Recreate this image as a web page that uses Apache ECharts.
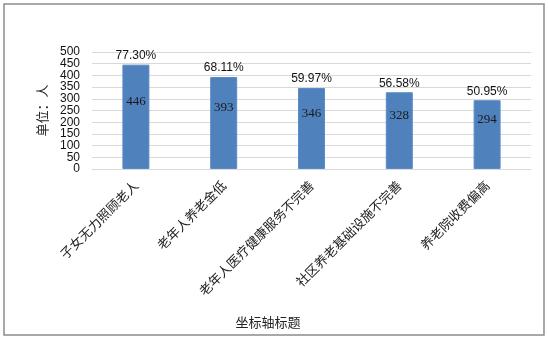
<!DOCTYPE html>
<html>
<head>
<meta charset="utf-8">
<script src="https://cdn.jsdelivr.net/npm/echarts@6/dist/echarts.min.js"></script>
<style>
  html, body { margin: 0; padding: 0; background: #fff; }
  #chart { width: 548px; height: 339px; }
</style>
</head>
<body>
<div id="chart"></div>
<script>
var categories = ['子女无力照顾老人', '老年人养老金低', '老年人医疗健康服务不完善', '社区养老基础设施不完善', '养老院收费偏高']
var counts = [446, 393, 346, 328, 294]
var percents = ['77.30%', '68.11%', '59.97%', '56.58%', '50.95%']

var chart = echarts.init(document.getElementById('chart'))

var sansFont = '"Liberation Sans", Arial, sans-serif'
var cjkFont = '"Noto Sans CJK SC", sans-serif'

var yLabelStyle = {
  color: '#111',
  fontSize: 12,
  fontFamily: sansFont,
  margin: 12
}

chart.setOption({
  animation: false,
  grid: {
    left: 92,
    right: 17,
    top: 52,
    bottom: 170
  },
  graphic: [
    {
      type: 'rect',
      shape: { x: 4, y: 4, width: 540, height: 331 },
      style: { fill: 'none', stroke: '#8c8c8c', lineWidth: 1.5 },
      silent: true
    },
    {
      type: 'text',
      x: 268,
      y: 322,
      style: {
        text: '坐标轴标题',
        fill: '#222',
        font: '13px ' + cjkFont,
        textAlign: 'center',
        textVerticalAlign: 'middle'
      }
    }
  ],
  xAxis: {
    type: 'category',
    data: categories,
    axisTick: { show: false },
    axisLine: { lineStyle: { color: '#d9d9d9', width: 1 } },
    axisLabel: {
      interval: 0,
      rotate: 45,
      margin: 14,
      color: '#222',
      fontSize: 13,
      fontFamily: cjkFont
    }
  },
  yAxis: [
    {
      type: 'value',
      min: 0,
      max: 500,
      interval: 50,
      name: '单位：人',
      nameLocation: 'middle',
      nameRotate: 90,
      nameGap: 43,
      nameTextStyle: { color: '#222', fontSize: 13, fontFamily: cjkFont },
      axisLine: { show: false },
      axisTick: { show: false },
      axisLabel: Object.assign({ showMinLabel: false, showMaxLabel: false }, yLabelStyle),
      splitLine: { lineStyle: { color: '#d9d9d9', width: 1 } }
    },
    {
      // only the end labels 0 and 500 (kept apart so they are not hidden)
      type: 'value',
      position: 'left',
      min: 0,
      max: 500,
      interval: 500,
      axisLine: { show: false },
      axisTick: { show: false },
      splitLine: { show: false },
      axisLabel: Object.assign({ showMinLabel: true, showMaxLabel: true }, yLabelStyle)
    }
  ],
  series: [
    {
      type: 'bar',
      data: counts,
      barWidth: 27,
      itemStyle: { color: '#4f81bd', borderColor: '#5b8bc6', borderWidth: 1 },
      label: {
        show: true,
        position: 'inside',
        offset: [0, -15],
        color: '#1a1a1a',
        fontSize: 13,
        fontFamily: '"Liberation Serif", serif'
      }
    },
    {
      type: 'bar',
      data: counts,
      barWidth: 27,
      barGap: '-100%',
      silent: true,
      itemStyle: { color: 'transparent' },
      label: {
        show: true,
        position: 'top',
        distance: 3,
        color: '#111',
        fontSize: 12,
        fontFamily: sansFont,
        formatter: function (p) {
          return percents[p.dataIndex]
        }
      }
    }
  ]
})
</script>
</body>
</html>
